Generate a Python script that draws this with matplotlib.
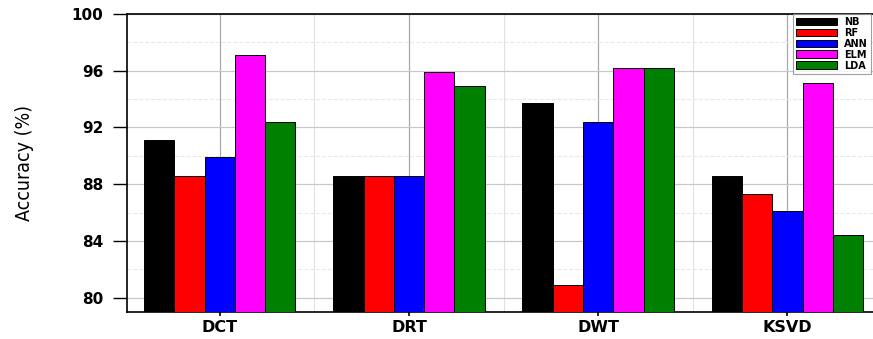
import matplotlib
matplotlib.use("Agg")
import matplotlib.pyplot as plt
import numpy as np
from matplotlib.ticker import MultipleLocator

# accuracy of each classifier per feature extraction method
methods = ["DCT", "DRT", "DWT", "KSVD"]
classifiers = ["NB", "RF", "ANN", "ELM", "LDA"]
nb = [91.1, 88.6, 93.7, 88.6]
rf = [88.6, 88.6, 80.9, 87.3]
ann = [89.9, 88.6, 92.4, 86.1]
elm = [97.1, 95.9, 96.2, 95.1]
lda = [92.4, 94.9, 96.2, 84.4]
colors = ["#000000", "#ff0000", "#0000ff", "#ff00ff", "#008000"]

series = [nb, rf, ann, elm, lda]

fig = plt.figure(figsize=(8.73, 3.39), dpi=100)
ax = fig.add_axes([0.1455, 0.080, 0.854, 0.879])

x = np.arange(len(methods))
w = 0.16
for i, (vals, name) in enumerate(zip(series, classifiers)):
    ax.bar(x + (i - 2) * w, vals, width=w, color=colors[i], edgecolor="black",
           linewidth=0.7, label=name, zorder=3)

ax.set_ylim(79, 100)
ax.set_xlim(-0.49, 3.45)
ax.yaxis.set_minor_locator(MultipleLocator(2))
ax.set_yticks([80, 84, 88, 92, 96, 100])
ax.set_xticks(x)
ax.set_xticks(x[:-1] + 0.5, minor=True)
ax.set_xticklabels(methods, fontsize=11.5, fontweight="bold")
ax.tick_params(axis="y", which="major", direction="out", length=10, width=1,
               labelsize=11, pad=7)
for lab in ax.get_yticklabels():
    lab.set_fontweight("bold")
ax.tick_params(axis="y", which="minor", length=0)
ax.tick_params(axis="x", which="major", direction="inout", length=6, width=1.2, pad=3)
ax.tick_params(axis="x", which="minor", length=0)

ax.grid(axis="y", which="major", color="#c8c8c8", linewidth=0.9, zorder=0)
ax.grid(axis="y", which="minor", color="#e8e8e8", linewidth=0.8, linestyle="--", zorder=0)
ax.grid(axis="x", which="major", color="#a8a8a8", linewidth=0.9, zorder=0)
ax.grid(axis="x", which="minor", color="#e0e0e0", linewidth=0.8, zorder=0)

for s in ["left", "bottom", "top"]:
    ax.spines[s].set_linewidth(1.2)
ax.spines["right"].set_visible(False)

ax.set_ylabel("Accuracy (%)", fontsize=14, fontstretch="condensed", labelpad=27)

leg = ax.legend(loc="upper right", bbox_to_anchor=(0.998, 1.0),
                prop={"weight": "bold", "size": 7}, handlelength=4.2, handleheight=0.85,
                labelspacing=0.1, borderaxespad=0, frameon=True, fancybox=False,
                borderpad=0.3, handletextpad=0.8)
leg.get_frame().set_edgecolor("#888888")
leg.get_frame().set_linewidth(0.8)
leg.set_zorder(5)

fig.savefig("out.png", dpi=100)
